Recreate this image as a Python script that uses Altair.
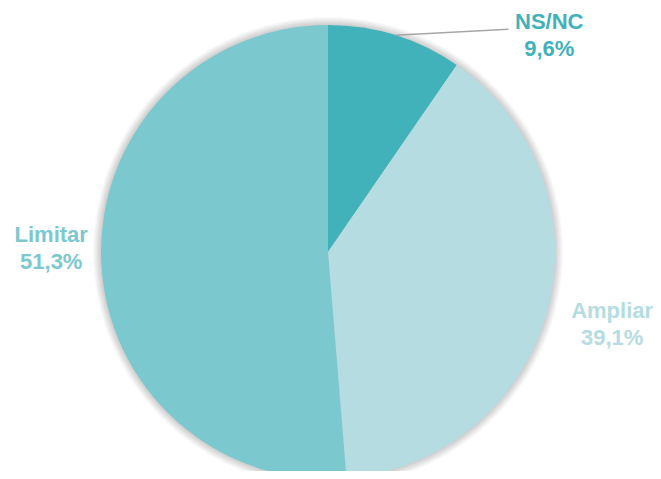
import altair as alt
import pandas as pd
import math

categories = ["NS/NC", "Ampliar", "Limitar"]
values = [9.6, 39.1, 51.3]
labels = ["9,6%", "39,1%", "51,3%"]
colors = ["#41B2BA", "#B4DCE1", "#7BC8CF"]

df = pd.DataFrame({
    "cat": categories,
    "value": values,
    "idx": list(range(len(categories))),
    "label": [c + "\n" + l for c, l in zip(categories, labels)],
})

CX, CY, R = 320, 244, 227

color_scale = alt.Scale(domain=categories, range=colors)

# soft shadow rings
shadow_layers = []
for i in range(8):
    shadow_layers.append(
        alt.Chart(pd.DataFrame({"v": [1]})).mark_arc(
            outerRadius=R + 1 + i, color="#000000", opacity=0.022,
            theta=0, theta2=2 * math.pi,
        ).encode(x=alt.value(CX), y=alt.value(CY))
    )

arcs = alt.Chart(df).mark_arc(outerRadius=R).encode(
    theta=alt.Theta("value:Q", stack=True),
    order=alt.Order("idx:Q"),
    color=alt.Color("cat:N", scale=color_scale, legend=None),
    x=alt.value(CX), y=alt.value(CY),
)

lab_base = alt.Chart(df).transform_window(
    cum="sum(value)", sort=[alt.SortField("idx")]
).transform_calculate(mid="datum.cum - datum.value / 2")

def label_layer(cat, radius, dx, dy):
    return lab_base.transform_filter(alt.datum.cat == cat).mark_text(
        radius=radius, dx=dx, dy=dy, fontSize=22, fontWeight="bold",
        font="Liberation Sans", lineBreak="\n", lineHeight=27, align="center",
        baseline="middle",
    ).encode(
        theta=alt.Theta("mid:Q", stack=None),
        text="label:N",
        color=alt.Color("cat:N", scale=color_scale, legend=None),
        x=alt.value(CX), y=alt.value(CY),
    )

labels_l = [
    label_layer("NS/NC", 250, 147, 9),
    label_layer("Ampliar", 293, 1, -17),
    label_layer("Limitar", 278, 1, -28),
]

# leader line for NS/NC, from slice middle on the edge
mid = values[0] / sum(values) * 2 * math.pi / 2
sx = CX + R * math.sin(mid)
sy = CY - R * math.cos(mid)
leader = alt.Chart(pd.DataFrame({"k": [0]})).mark_rule(
    color="#A6A6A6", strokeWidth=1.5
).encode(
    x=alt.value(sx), y=alt.value(sy), x2=alt.value(sx + 113), y2=alt.value(sy - 6)
)

chart = alt.layer(*shadow_layers, arcs, leader, *labels_l).properties(
    width=645, height=463, autosize=alt.AutoSizeParams(type="none"), padding=0
).configure_view(stroke=None)

chart.save("out.html", embed_options={"renderer": "svg", "actions": False})
